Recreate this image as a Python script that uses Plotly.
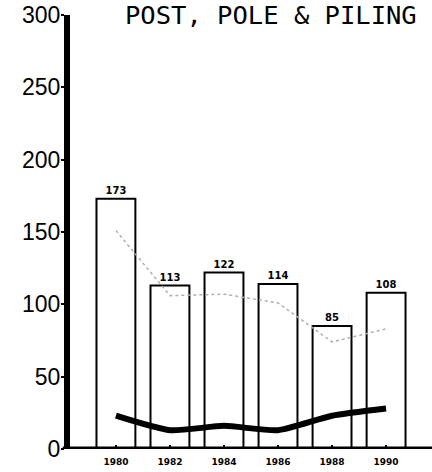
import plotly.graph_objects as go

years = ["1980", "1982", "1984", "1986", "1988", "1990"]
bar_values = [173, 113, 122, 114, 85, 108]
dotted_values = [151, 106, 107, 101, 74, 83]
solid_values = [23, 13, 16, 13, 23, 28]
y_ticks = [0, 50, 100, 150, 200, 250, 300]
title_text = "POST, POLE & PILING"

xi = list(range(len(years)))

fig = go.Figure()
fig.add_trace(go.Bar(
    x=xi, y=bar_values, width=0.72,
    marker=dict(color="white", line=dict(color="black", width=2)),
    text=["<b>%d</b>" % v for v in bar_values], textposition="outside",
    textfont=dict(family="DejaVu Sans", size=10, color="black"),
    cliponaxis=False, showlegend=False,
))
fig.add_trace(go.Scatter(
    x=xi, y=dotted_values, mode="lines",
    line=dict(color="#b0b0b0", width=1.5, dash="dot"),
    showlegend=False,
))
fig.add_trace(go.Scatter(
    x=xi, y=solid_values, mode="lines",
    line=dict(color="black", width=6, shape="spline", smoothing=0.6),
    showlegend=False,
))

fig.update_layout(
    width=432, height=472,
    margin=dict(l=70, r=0, t=15, b=23),
    paper_bgcolor="white", plot_bgcolor="white",
    xaxis=dict(
        range=[-0.85, 5.85], tickmode="array", tickvals=xi,
        ticktext=["<b>%s</b>" % y for y in years],
        showgrid=False, zeroline=False, showline=False,
        ticks="inside", ticklen=4, tickcolor="black", tickwidth=1.5,
        tickfont=dict(family="DejaVu Sans", size=9, color="black"),
        ticklabelstandoff=6,
    ),
    yaxis=dict(
        range=[0, 300], tickmode="array", tickvals=y_ticks,
        showgrid=False, zeroline=False, showline=True, linecolor="black", linewidth=6,
        ticks="outside", ticklen=3, tickcolor="black", tickwidth=1.5,
        tickfont=dict(family="Liberation Sans", size=23, color="black"),
        ticklabelstandoff=-4,
    ),
    annotations=[dict(
        text=title_text, xref="paper", yref="paper", x=0.146, y=1.0,
        xanchor="left", yanchor="middle", showarrow=False,
        font=dict(family="DejaVu Sans Mono", size=25.5, color="black"),
    )],
    shapes=[dict(
        type="line", xref="paper", yref="y", x0=-0.02, x1=1.0, y0=0, y1=0,
        line=dict(color="black", width=5),
    )],
)

fig.write_html("out.html", post_script="document.body.style.margin='0';",
               config={"displayModeBar": False})
